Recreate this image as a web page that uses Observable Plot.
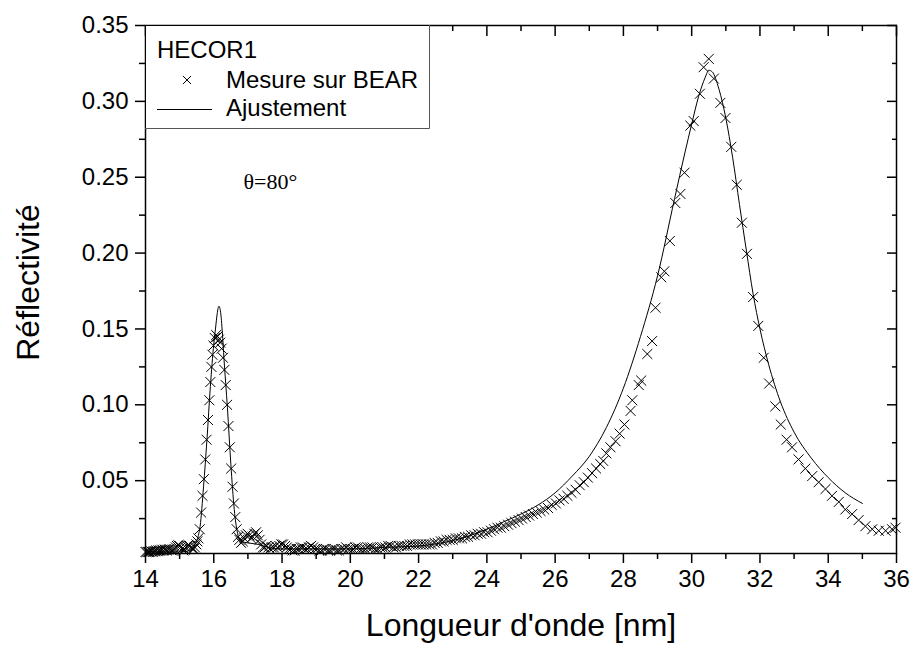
<!DOCTYPE html>
<html><head><meta charset="utf-8">
<script src="https://cdn.jsdelivr.net/npm/d3@7"></script>
<script src="https://cdn.jsdelivr.net/npm/@observablehq/plot@0.6"></script>
<style>body{margin:0;background:#fff} svg{display:block}</style>
</head><body><div id="chart"></div>
<script>
// Measured points (wavelength nm, reflectivity)
const mesure = [
[14.00,.003],[14.03,.003],[14.07,.003],[14.10,.003],[14.14,.003],[14.17,.0035],[14.21,.003],[14.24,.0035],[14.28,.0035],[14.31,.004],
[14.35,.0035],[14.38,.004],[14.42,.004],[14.45,.004],[14.49,.0045],[14.52,.004],[14.56,.0045],[14.60,.0045],[14.63,.004],[14.67,.0045],
[14.70,.005],[14.74,.0045],[14.78,.004],[14.81,.0045],[14.85,.005],[14.89,.006],[14.92,.007],[14.96,.0075],[15.00,.007],[15.03,.006],
[15.07,.005],[15.11,.004],[15.15,.0045],[15.18,.006],[15.22,.007],[15.26,.0075],[15.30,.007],[15.34,.006],[15.38,.005],[15.41,.005],
[15.45,.006],[15.49,.008],[15.52,.010],
[15.55,.012],[15.59,.018],[15.63,.029],[15.67,.040],[15.71,.051],[15.75,.064],[15.79,.077],[15.83,.090],[15.87,.103],[15.90,.115],
[15.93,.125],[15.96,.133],[15.99,.139],[16.03,.144],[16.07,.146],[16.11,.145],[16.15,.143],[16.19,.141],[16.23,.137],[16.27,.131],
[16.31,.123],[16.35,.113],[16.39,.100],[16.43,.086],[16.47,.072],[16.51,.058],[16.55,.046],[16.59,.035],[16.63,.026],[16.67,.018],
[16.71,.013],
[16.75,.011],[16.80,.009],[16.85,.010],[16.89,.012],[16.94,.014],[16.99,.015],[17.04,.014],[17.09,.012],[17.14,.013],[17.19,.015],
[17.24,.016],[17.29,.014],[17.34,.011],[17.39,.008],[17.44,.006],[17.49,.006],[17.54,.007],[17.60,.006],[17.65,.005],[17.70,.006],
[17.76,.006],[17.81,.007],[17.87,.006],[17.92,.007],[17.98,.008],[18.03,.008],[18.09,.007],[18.14,.006],[18.20,.005],[18.26,.005],
[18.31,.004],[18.37,.004],[18.43,.005],[18.49,.005],[18.55,.006],[18.61,.006],[18.67,.005],[18.73,.005],[18.79,.006],[18.85,.007],
[18.91,.006],[18.97,.005],[19.03,.005],[19.09,.004],[19.16,.004],[19.22,.005],[19.28,.005],[19.35,.004],[19.41,.004],[19.48,.005],
[19.54,.005],[19.61,.004],[19.67,.004],[19.74,.005],[19.81,.005],[19.88,.006],[19.94,.005],[20.01,.005],[20.08,.005],[20.15,.006],
[20.22,.006],[20.29,.005],[20.36,.005],[20.44,.005],[20.51,.006],[20.58,.006],[20.65,.006],[20.73,.005],[20.80,.005],[20.88,.006],
[20.95,.006],[21.03,.006],[21.11,.007],[21.18,.007],[21.26,.006],[21.34,.006],[21.42,.007],[21.50,.007],[21.58,.007],[21.66,.007],
[21.74,.008],[21.82,.008],[21.90,.008],[21.98,.008],
[22.06,.008],[22.14,.008],[22.22,.008],[22.31,.008],[22.39,.008],[22.47,.009],[22.56,.009],[22.65,.010],[22.73,.010],[22.82,.011],
[22.91,.011],[23.00,.011],[23.09,.012],[23.18,.012],[23.27,.012],[23.36,.013],[23.45,.013],[23.54,.014],[23.64,.014],[23.73,.015],
[23.83,.015],[23.92,.016],[24.02,.016],[24.12,.017],[24.21,.018],[24.31,.019],[24.41,.019],[24.51,.020],[24.62,.021],[24.72,.022],
[24.82,.023],[24.93,.024],[25.03,.025],[25.14,.026],[25.24,.027],[25.35,.028],[25.46,.029],[25.57,.030],[25.68,.031],[25.79,.032],
[25.90,.034],[26.02,.035],[26.13,.037],[26.25,.038],[26.36,.040],[26.48,.042],[26.60,.044],[26.72,.047],[26.84,.049],[26.96,.052],
[27.08,.055],[27.20,.058],[27.32,.061],
[27.41,.063],[27.50,.068],[27.62,.072],[27.77,.076],[27.89,.081],[28.03,.087],[28.21,.096],[28.26,.103],[28.45,.113],[28.52,.116],
[28.70,.1335],[28.84,.142],[28.94,.164],[29.11,.184],[29.20,.188],[29.36,.208],[29.52,.233],[29.67,.239],[29.79,.253],[29.96,.284],
[30.06,.287],[30.24,.305],[30.35,.3225],[30.50,.328],[30.65,.315],[30.84,.299],[30.99,.289],[31.16,.270],[31.32,.245],[31.47,.220],
[31.62,.1995],[31.80,.171],[31.95,.152],[32.11,.131],[32.27,.114],[32.45,.099],[32.61,.087],[32.78,.077],[32.94,.072],[33.13,.064],
[33.33,.058],[33.53,.053],[33.72,.049],[33.92,.0445],[34.11,.040],[34.31,.036],[34.50,.031],[34.70,.028],[34.89,.024],[35.09,.020],
[35.29,.018],[35.48,.017],[35.68,.017],[35.87,.018],[35.97,.019]
];
// Fitted curve (wavelength nm, reflectivity)
const ajustement = [
[14.0,.003],[14.5,.003],[15.0,.003],[15.3,.004],[15.45,.008],[15.55,.014],[15.6,.020],[15.7,.046],[15.8,.077],[15.9,.112],
[16.0,.140],[16.05,.150],[16.1,.160],[16.15,.165],[16.2,.161],[16.25,.148],[16.3,.130],[16.4,.098],[16.5,.061],[16.6,.031],
[16.7,.015],[16.8,.010],[17.0,.009],[17.3,.008],[17.6,.006],[18.0,.005],[19.0,.005],[20.0,.005],[21.0,.006],[22.0,.007],
[23.0,.0105],[24.0,.018],[24.5,.023],[25.0,.028],[25.5,.034],[26.0,.042],[26.5,.053],[27.0,.066],[27.5,.085],[28.0,.111],
[28.5,.145],[29.0,.185],[29.5,.236],[29.8,.266],[30.0,.285],[30.2,.303],[30.4,.316],[30.5,.3205],[30.6,.3195],[30.8,.308],
[31.0,.289],[31.2,.263],[31.4,.232],[31.6,.202],[31.8,.173],[32.0,.150],[32.25,.127],[32.6,.102],[33.0,.082],[33.5,.065],
[34.0,.052],[34.5,.042],[35.0,.035]
];
const xMajor = [14,16,18,20,22,24,26,28,30,32,34,36];
const xMinor = [15,17,19,21,23,25,27,29,31,33,35];
const yMajor = [0.05,0.10,0.15,0.20,0.25,0.30,0.35];
const yMinor = [0.025,0.075,0.125,0.175,0.225,0.275,0.325];
const xTitle = "Longueur d'onde [nm]";
const yTitle = "Réflectivité";
const legendTitle = "HECOR1";
const seriesNames = ["Mesure sur BEAR", "Ajustement"];
const annotation = "θ=80°";

const none = () => "";
const ax = {label: null, strokeWidth: 1.5};
const chart = Plot.plot({
  width: 914, height: 651,
  marginLeft: 145, marginRight: 18, marginTop: 25, marginBottom: 98,
  style: {fontFamily: "'Liberation Sans', Arial, sans-serif", fontSize: "24px", color: "#000", background: "#fff"},
  x: {domain: [14, 36]},
  y: {domain: [0.002, 0.35]},
  marks: [
    Plot.axisX({...ax, anchor: "bottom", ticks: xMajor, tickSize: 10, tickPadding: 6, tickFormat: d => String(d), fontSize: 24}),
    Plot.axisX({...ax, anchor: "bottom", ticks: xMinor, tickSize: 6, tickFormat: none}),
    Plot.axisX({...ax, anchor: "top", ticks: xMajor, tickSize: -10, tickFormat: none}),
    Plot.axisX({...ax, anchor: "top", ticks: xMinor, tickSize: -5, tickFormat: none}),
    Plot.axisY({...ax, anchor: "left", ticks: yMajor, tickSize: 10, tickPadding: 7, tickFormat: d3.format(".2f"), fontSize: 24}),
    Plot.axisY({...ax, anchor: "left", ticks: yMinor, tickSize: 6, tickFormat: none}),
    Plot.axisY({...ax, anchor: "right", ticks: yMajor, tickSize: -10, tickFormat: none}),
    Plot.axisY({...ax, anchor: "right", ticks: yMinor, tickSize: -5, tickFormat: none}),
    Plot.line(ajustement, {x: d => d[0], y: d => d[1], stroke: "#000", strokeWidth: 1, curve: "monotone-x"}),
    Plot.dot(mesure, {x: d => d[0], y: d => d[1], symbol: "times", r: 4.6, stroke: "#000", strokeWidth: 1}),
    Plot.frame({stroke: "#000", strokeWidth: 1.5}),
    Plot.text([yTitle], {frameAnchor: "left", dx: -117, dy: -7, rotate: -90, textAnchor: "middle", fontSize: 32}),
    Plot.text([xTitle], {frameAnchor: "bottom", dy: 82, fontSize: 32}),
    Plot.text([annotation], {frameAnchor: "top-left", dx: 98, dy: 148, textAnchor: "start", fontFamily: "'Liberation Serif', 'Times New Roman', serif", fontSize: 22})
  ]
});
document.getElementById("chart").appendChild(chart);

// Legend box
const svg = d3.select(chart);
const lg = svg.append("g").attr("font-family", "'Liberation Sans', Arial, sans-serif").attr("font-size", 24).attr("fill", "#000").attr("text-anchor", "start");
lg.append("rect").attr("x", 146).attr("y", 26).attr("width", 283).attr("height", 102).attr("fill", "#fff");
lg.append("path").attr("d", "M429.5,25V128.5H145").attr("fill", "none").attr("stroke", "#555").attr("stroke-width", 1);
lg.append("text").attr("x", 157).attr("y", 58).text(legendTitle);
lg.append("path").attr("d", "M183,76L191,84M191,76L183,84").attr("stroke", "#000").attr("stroke-width", 1);
lg.append("text").attr("x", 226).attr("y", 88).text(seriesNames[0]);
lg.append("path").attr("d", "M157,109.5H212").attr("stroke", "#000").attr("stroke-width", 1);
lg.append("text").attr("x", 226).attr("y", 116).text(seriesNames[1]);
</script>
</body></html>
